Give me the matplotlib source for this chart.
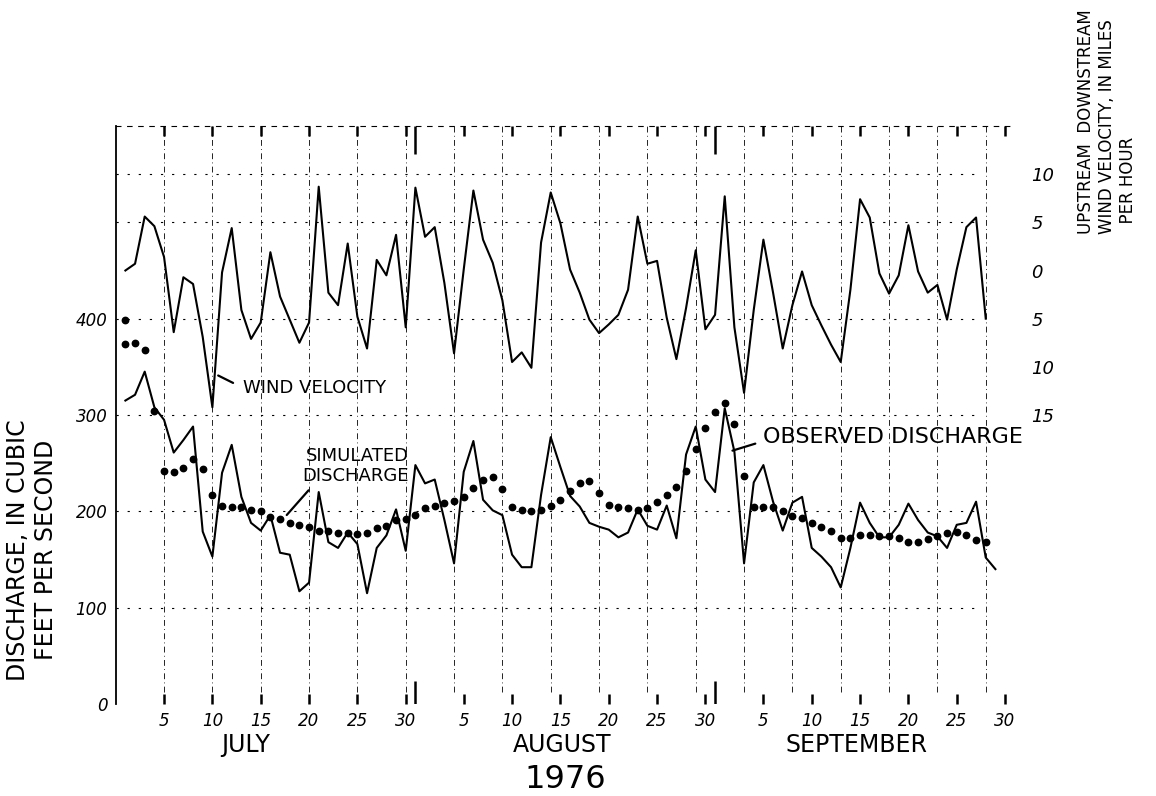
import numpy as np
import matplotlib
matplotlib.use("Agg")
import matplotlib.pyplot as plt

# Daily values, 1 July - 30 September 1976 (day 1 = July 1)
# wind velocity in mph: + downstream, - upstream
wind_velocity = [0.0, 0.7, 5.6, 4.6, 1.4, -6.4, -0.7, -1.4, -6.9, -14.2,
                 -0.2, 4.4, -4.1, -7.1, -5.4, 1.9, -2.7, -5.1, -7.5, -5.4,
                 8.7, -2.3, -3.6, 2.8, -4.8, -8.1, 1.1, -0.5, 3.7, -5.9,
                 8.6, 3.5, 4.5, -1.3, -8.6, 0.1, 8.3, 3.2, 0.8, -3.1,
                 -9.5, -8.5, -10.1, 2.9, 8.1, 4.9, 0.1, -2.3, -5.1, -6.5,
                 -5.6, -4.6, -2.0, 5.6, 0.7, 1.0, -4.9, -9.2, -3.9, 2.1,
                 -6.1, -4.6, 7.7, -5.9, -12.7, -4.1, 3.2, -2.3, -8.1, -3.6,
                 -0.1, -3.6, -5.7, -7.7, -9.5, -2.0, 7.4, 5.5, -0.3, -2.4,
                 -0.5, 4.7, -0.1, -2.3, -1.5, -5.1, 0.1, 4.5, 5.5, -5.0]

# discharge in cubic feet per second
observed_discharge = [315, 321, 345, 308, 295, 261, 274, 288, 179, 153,
                      240, 269, 215, 188, 180, 196, 157, 155, 117, 126,
                      220, 168, 162, 178, 166, 115, 162, 175, 202, 159,
                      248, 229, 233, 191, 146, 241, 273, 212, 201, 196,
                      155, 142, 142, 217, 277, 246, 216, 205, 188, 184,
                      181, 173, 178, 202, 185, 181, 206, 172, 259, 288,
                      233, 220, 307, 262, 146, 230, 248, 210, 180, 209,
                      215, 162, 153, 142, 121, 162, 209, 188, 173, 173,
                      186, 208, 191, 178, 174, 162, 186, 188, 210, 152,
                      140]

simulated_initial = 399
simulated_discharge = [374, 375, 367, 304, 242, 241, 245, 254, 244, 217,
                       206, 205, 205, 201, 200, 194, 192, 188, 186, 184,
                       180, 180, 178, 178, 176, 177, 183, 185, 191, 192,
                       196, 203, 206, 209, 211, 215, 224, 233, 236, 223,
                       205, 201, 200, 201, 206, 212, 221, 229, 231, 219,
                       207, 204, 203, 201, 203, 210, 217, 225, 242, 265,
                       286, 303, 312, 291, 237, 205, 205, 204, 200, 195,
                       193, 188, 184, 180, 172, 172, 175, 175, 174, 174,
                       172, 168, 168, 171, 174, 177, 179, 175, 170, 168]

months = ["JULY", "AUGUST", "SEPTEMBER"]
month_lengths = [31, 31, 30]
tick_days = [5, 10, 15, 20, 25, 30]
discharge_ticks = [0, 100, 200, 300, 400]
wind_ticks = [10, 5, 0, -5, -10, -15]
year = "1976"

plt.rcParams["font.family"] = ["DejaVu Sans"]

fig = plt.figure(figsize=(11.56, 7.96), dpi=100)
ax = fig.add_axes([0.1001, 0.1156, 0.7777, 0.7261])
ax.set_xlim(0, 93)
ax.set_ylim(0, 600)

# wind on its own scale: 0 mph sits at 450 cfs, 1 mph = 10 cfs
ax2 = ax.twinx()
ax2.set_ylim(-45, 15)

# grid: every 5 days, every 100 cfs (and every 5 mph in the wind band)
ax.vlines(np.arange(5, 91, 5), 0.02, 1, transform=ax.get_xaxis_transform(),
          color="black", lw=0.6, linestyles=[(0, (7, 4, 1, 4))])
ax.hlines([100, 200, 300, 400, 500, 550], 0, 0.96, transform=ax.get_yaxis_transform(),
          color="black", lw=0.8, linestyles=[(0, (2, 8))])

days_wind = np.arange(1, len(wind_velocity) + 1)
days_obs = np.arange(1, len(observed_discharge) + 1)
days_sim = np.arange(1, len(simulated_discharge) + 1)

ax2.plot(days_wind, wind_velocity, color="black", lw=1.5)
ax.plot(days_obs, observed_discharge, color="black", lw=1.5)
ax.plot(days_sim, simulated_discharge, "o", color="black", ms=4.6, ls="none")
ax.plot([1], [simulated_initial], "o", color="black", ms=4.6)

# x ticks: day of month, repeated for each month
offsets = np.concatenate([[0], np.cumsum(month_lengths)[:-1]])
major = [off + d for off in offsets for d in tick_days]
ax.set_xticks(major)
ax.set_xticklabels([str(d) for off in offsets for d in tick_days],
                   fontsize=12, style="italic")
ax.tick_params(axis="x", which="major", direction="in", length=7, width=1.8,
               top=True, bottom=True, pad=6)

ax.set_yticks(discharge_ticks)
ax.set_yticklabels([str(v) for v in discharge_ticks], fontsize=12, style="italic")
ax.tick_params(axis="y", which="major", length=0, pad=6)

ax2.set_yticks(wind_ticks)
ax2.set_yticklabels([str(abs(v)) for v in wind_ticks], fontsize=13, style="italic")
ax2.tick_params(axis="y", length=0, pad=12)

for s in ["bottom", "right"]:
    ax.spines[s].set_visible(False)
for s in ax2.spines.values():
    s.set_visible(False)
ax.spines["left"].set_linewidth(1.3)
ax.spines["top"].set_linewidth(0.8)
ax.spines["top"].set_linestyle((0, (4, 6)))

# month separators
month_ends = np.cumsum(month_lengths)[:-1]
ax.vlines(month_ends, 0, 0.04, transform=ax.get_xaxis_transform(), color="black", lw=1.8)
ax.vlines(month_ends, 0.952, 1.0, transform=ax.get_xaxis_transform(), color="black", lw=1.8)

# month names and year
for name, xpos in zip(months, [13.4, 46.2, 76.6]):
    ax.text(xpos, -0.071, name, transform=ax.get_xaxis_transform(),
            ha="center", va="center", fontsize=17)
ax.text(46.5, -0.131, year, transform=ax.get_xaxis_transform(),
        ha="center", va="center", fontsize=23)

# axis titles
fig.text(32 / 1156, 1 - 550 / 796, "DISCHARGE, IN CUBIC\nFEET PER SECOND",
         rotation=90, ha="center", va="center", fontsize=17, multialignment="center")
fig.text(1107 / 1156, 1 - 122 / 796,
         "UPSTREAM  DOWNSTREAM\nWIND VELOCITY, IN MILES\n  PER HOUR",
         rotation=90, ha="center", va="center", fontsize=12, multialignment="left")

# labels with leader lines
ax.annotate("WIND VELOCITY", xy=(10.6, 341), xytext=(13.2, 328),
            ha="left", va="center", fontsize=13,
            arrowprops=dict(arrowstyle="-", lw=1.6, relpos=(0, 0.5), shrinkA=6, shrinkB=0))
ax.annotate("SIMULATED\nDISCHARGE", xy=(17.5, 194), xytext=(24.8, 247),
            ha="center", va="center", fontsize=13, multialignment="right",
            arrowprops=dict(arrowstyle="-", lw=1.6, relpos=(0.1, 0), shrinkA=2, shrinkB=2))
ax.annotate("OBSERVED DISCHARGE", xy=(63.8, 263), xytext=(67.0, 277),
            ha="left", va="center", fontsize=16,
            arrowprops=dict(arrowstyle="-", lw=1.6, relpos=(0, 0.3), shrinkA=4, shrinkB=0))

fig.savefig("out.png", dpi=100)
